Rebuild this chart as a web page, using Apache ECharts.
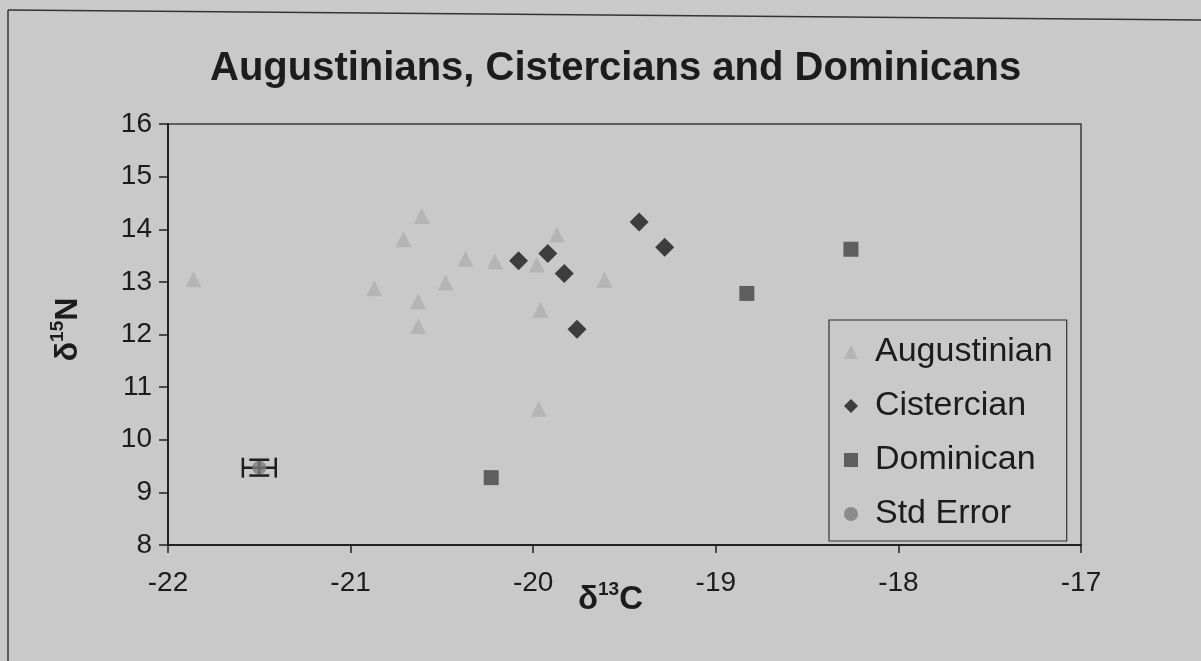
<!DOCTYPE html>
<html>
<head>
<meta charset="utf-8">
<script src="https://cdn.jsdelivr.net/npm/echarts@6/dist/echarts.min.js"></script>
<style>
  html, body { margin: 0; padding: 0; background: #c9c9c9; }
  #chart { width: 1201px; height: 661px; }
</style>
</head>
<body>
<div id="chart"></div>
<script>
// d13C, d15N pairs
const augustinian = [
  [-21.86, 13.05], [-20.87, 12.88], [-20.71, 13.81], [-20.63, 12.63],
  [-20.63, 12.16], [-20.61, 14.25], [-20.48, 12.99], [-20.37, 13.44],
  [-20.21, 13.39], [-19.98, 13.33], [-19.87, 13.90], [-19.96, 12.47],
  [-19.97, 10.59], [-19.61, 13.04]
];
const cistercian = [
  [-20.08, 13.40], [-19.92, 13.54], [-19.83, 13.16], [-19.76, 12.10],
  [-19.42, 14.14], [-19.28, 13.66]
];
const dominican = [[-20.23, 9.28], [-18.83, 12.78], [-18.26, 13.62]];
const stdErrorPoint = [[-21.50, 9.47]];
// [x, y, error in C, error in N]
const stdErrorBars = [[-21.50, 9.47, 0.09, 0.15]];

const xTicks = { min: -22, max: -17, interval: 1 };
const yTicks = { min: 8, max: 16, interval: 1 };

const font = "'Liberation Sans', Arial, sans-serif";
const ink = "#1c1c1c";

const chart = echarts.init(document.getElementById("chart"));

// bold axis name with superscript isotope number
function isoRich(size) {
  return {
    d: { fontFamily: font, fontSize: size, fontWeight: "bold", color: ink, lineHeight: 36, verticalAlign: "bottom" },
    s: { fontFamily: font, fontSize: 19, fontWeight: "bold", color: ink, lineHeight: 36, verticalAlign: "top" },
  };
}

const option = {
  animation: false,
  backgroundColor: "#c9c9c9",
  title: {
    text: "Augustinians, Cistercians and Dominicans",
    left: 205,
    top: 44,
    textStyle: { fontFamily: font, fontSize: 40, fontWeight: "bold", color: ink },
  },
  grid: {
    left: 168, right: 120, top: 124, bottom: 116,
    show: true, borderColor: "#3a3a3a", borderWidth: 1.5,
  },
  legend: {
    orient: "vertical",
    left: 829,
    top: 320,
    data: ["Augustinian", "Cistercian", "Dominican", "Std Error"],
    itemWidth: 14,
    itemHeight: 14,
    itemGap: 20,
    padding: [15, 14, 10, 15],
    borderColor: "#333",
    borderWidth: 1.2,
    textStyle: {
      fontFamily: font, fontSize: 34, color: ink,
      lineHeight: 34, padding: [0, 0, 0, 12],
    },
  },
  xAxis: {
    type: "value",
    min: xTicks.min, max: xTicks.max, interval: xTicks.interval,
    name: "{d|δ}{s|13}{d|C}",
    nameLocation: "middle",
    nameGap: 35,
    nameMoveOverlap: false,
    nameTextStyle: { padding: [0, 28, 0, 0], rich: isoRich(33) },
    axisLine: { onZero: false, lineStyle: { color: "#222", width: 2 } },
    axisTick: { show: true, length: 8, lineStyle: { color: "#222", width: 1.5 } },
    axisLabel: { fontFamily: font, fontSize: 28, color: ink, margin: 24 },
    splitLine: { show: false },
  },
  yAxis: {
    type: "value",
    min: yTicks.min, max: yTicks.max, interval: yTicks.interval,
    name: "{d|δ}{s|15}{d|N}",
    nameLocation: "middle",
    nameRotate: 90,
    nameGap: 84,
    nameMoveOverlap: false,
    nameTextStyle: { padding: [0, 0, 0, 10], rich: isoRich(32) },
    axisLine: { onZero: false, lineStyle: { color: "#222", width: 2 } },
    axisTick: { show: true, length: 9, lineStyle: { color: "#222", width: 1.5 } },
    axisLabel: { fontFamily: font, fontSize: 28, color: ink, margin: 16 },
    splitLine: { show: false },
  },
  graphic: [
    // outer frame of the scanned figure
    { type: "line", shape: { x1: 8, y1: 10, x2: 1201, y2: 20 }, style: { stroke: "#333", lineWidth: 1.5 } },
    { type: "line", shape: { x1: 8, y1: 10, x2: 8, y2: 661 }, style: { stroke: "#333", lineWidth: 1.5 } },
  ],
  series: [
    {
      name: "Augustinian",
      type: "scatter",
      data: augustinian,
      symbol: "triangle",
      symbolSize: 16,
      itemStyle: { color: "#b0b0b0" },
      z: 2,
    },
    {
      name: "Cistercian",
      type: "scatter",
      data: cistercian,
      symbol: "diamond",
      symbolSize: 19,
      itemStyle: { color: "#1a1a1a" },
      z: 3,
    },
    {
      name: "Dominican",
      type: "scatter",
      data: dominican,
      symbol: "rect",
      symbolSize: 15,
      itemStyle: { color: "#444444" },
      z: 3,
    },
    {
      name: "errorBars",
      type: "custom",
      data: stdErrorBars,
      z: 3,
      renderItem: function (params, api) {
        const x = api.value(0), y = api.value(1);
        const ex = api.value(2), ey = api.value(3);
        const left = api.coord([x - ex, y]);
        const right = api.coord([x + ex, y]);
        const top = api.coord([x, y + ey]);
        const bottom = api.coord([x, y - ey]);
        const cap = 10;
        const style = { stroke: "#1e1e1e", lineWidth: 2.5 };
        return {
          type: "group",
          children: [
            { type: "line", shape: { x1: left[0], y1: left[1], x2: right[0], y2: right[1] }, style: style },
            { type: "line", shape: { x1: left[0], y1: left[1] - cap, x2: left[0], y2: left[1] + cap }, style: style },
            { type: "line", shape: { x1: right[0], y1: right[1] - cap, x2: right[0], y2: right[1] + cap }, style: style },
            { type: "line", shape: { x1: top[0], y1: top[1], x2: bottom[0], y2: bottom[1] }, style: style },
            { type: "line", shape: { x1: top[0] - cap, y1: top[1], x2: top[0] + cap, y2: top[1] }, style: style },
            { type: "line", shape: { x1: bottom[0] - cap, y1: bottom[1], x2: bottom[0] + cap, y2: bottom[1] }, style: style },
          ],
        };
      },
    },
    {
      name: "Std Error",
      type: "scatter",
      data: stdErrorPoint,
      symbol: "circle",
      symbolSize: 14,
      itemStyle: { color: "#7c7c7c" },
      z: 4,
    },
  ],
};

chart.setOption(option);
</script>
</body>
</html>
